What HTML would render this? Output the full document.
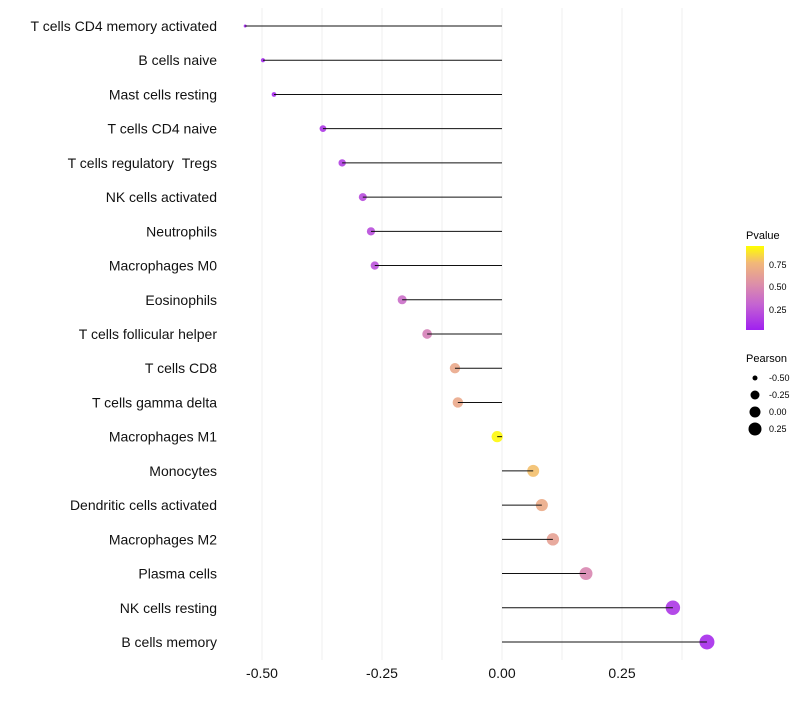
<!DOCTYPE html>
<html><head><meta charset="utf-8"><style>
body{margin:0;background:#fff;font-family:"Liberation Sans",sans-serif}
</style></head><body>
<svg id="chart" width="800" height="700" xmlns="http://www.w3.org/2000/svg" font-family="Liberation Sans, sans-serif">
<defs><linearGradient id="pg" x1="0" y1="1" x2="0" y2="0">
<stop offset="0" stop-color="#a020f0"/><stop offset="0.3" stop-color="#c463d2"/><stop offset="0.55" stop-color="#dd8fa8"/><stop offset="0.8" stop-color="#f2b878"/><stop offset="1" stop-color="#ffff00"/>
</linearGradient></defs>
<g id="grid"></g><g id="marks"></g><g id="labels"></g><g id="xaxis"></g>
<g>
<text x="746" y="239" font-size="11">Pvalue</text>
<rect x="746" y="246" width="18" height="84" fill="url(#pg)"/>
<text x="769" y="268" font-size="9">0.75</text>
<text x="769" y="290" font-size="9">0.50</text>
<text x="769" y="313" font-size="9">0.25</text>
</g>
<g id="sizelegend">
<text x="746" y="362" font-size="11">Pearson</text>
</g>
</svg>
<script>
const categories=["T cells CD4 memory activated","B cells naive","Mast cells resting","T cells CD4 naive","T cells regulatory \u00a0Tregs","NK cells activated","Neutrophils","Macrophages M0","Eosinophils","T cells follicular helper","T cells CD8","T cells gamma delta","Macrophages M1","Monocytes","Dendritic cells activated","Macrophages M2","Plasma cells","NK cells resting","B cells memory"];
const pearson=[-0.535,-0.498,-0.475,-0.373,-0.333,-0.29,-0.273,-0.265,-0.208,-0.156,-0.098,-0.092,-0.01,0.065,0.083,0.106,0.175,0.356,0.427];
const pvalue=[0.02,0.03,0.04,0.1,0.14,0.19,0.2,0.22,0.36,0.46,0.7,0.7,0.98,0.82,0.72,0.66,0.5,0.1,0.05];
const xTicks=[-0.5,-0.25,0,0.25];
const xTickLabels=["-0.50","-0.25","0.00","0.25"];
const legendValues=[-0.5,-0.25,0,0.25];
const legendLabels=["-0.50","-0.25","0.00","0.25"];
const NS="http://www.w3.org/2000/svg";
const xs=v=>502+v*480;
const ys=i=>26+i*(616/(categories.length-1));
const rs=v=>Math.sqrt(Math.max(1,2.25+(v+0.535)*56));
const stops=[[0,[160,32,240]],[0.3,[196,99,210]],[0.55,[221,143,168]],[0.8,[242,184,120]],[1,[255,255,0]]];
function col(p){for(let k=1;k<stops.length;k++){if(p<=stops[k][0]){const a=stops[k-1],b=stops[k],t=(p-a[0])/(b[0]-a[0]);return "rgb("+a[1].map((c,j)=>Math.round(c+(b[1][j]-c)*t)).join(",")+")";}}return "rgb(255,255,0)";}
function mk(tag,at,parent){const e=document.createElementNS(NS,tag);for(const k in at)e.setAttribute(k,at[k]);document.getElementById(parent).appendChild(e);return e;}
for(let g=-0.5;g<=0.38;g+=0.125){const l=mk("line",{x1:xs(g),x2:xs(g),y1:8,y2:660,stroke:"#efefef","stroke-width":1},"grid");

}
categories.forEach((c,i)=>{
const y=ys(i);
const p=mk("circle",{cx:xs(pearson[i]),cy:y,r:rs(pearson[i]),fill:col(pvalue[i]),"fill-opacity":0.9},"marks");


const s=mk("line",{x1:xs(0),x2:xs(pearson[i]),y1:y,y2:y,stroke:"#111","stroke-width":1},"marks");


const t=mk("text",{x:217,y:y+5,"font-size":14,"text-anchor":"end",fill:"#111"},"labels");t.textContent=c;


});
xTicks.forEach((v,i)=>{const t=mk("text",{x:xs(v),y:678,"font-size":14,"text-anchor":"middle",fill:"#111"},"xaxis");t.textContent=xTickLabels[i];

});
legendValues.forEach((v,i)=>{const y=378+i*17;
const c=mk("circle",{cx:755,cy:y,r:[2.5,4.5,5.5,6.5][i],fill:"#000"},"sizelegend");


const t=mk("text",{x:769,y:y+3,"font-size":9},"sizelegend");t.textContent=legendLabels[i];

});
</script>
</body></html>
